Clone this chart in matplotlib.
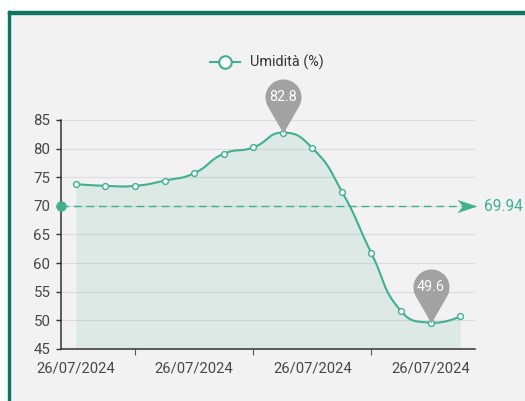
import numpy as np
import matplotlib.pyplot as plt
from matplotlib.path import Path
from matplotlib.lines import Line2D
from matplotlib.patches import Rectangle

plt.rcParams['font.family'] = ['Roboto', 'DejaVu Sans']

# data
dates = ['26/07/2024'] * 14
umidita = [73.8, 73.5, 73.5, 74.4, 75.7, 79.1, 80.2, 82.8, 80.1, 72.5, 61.7, 51.6, 49.6, 50.7]
yticks = [45, 50, 55, 60, 65, 70, 75, 80, 85]
label_idx = [0, 4, 8, 12]
tick_idx = [2, 6, 10]
serie_name = 'Umidità (%)'

teal = '#42b08f'
pin_grey = '#a2a2a2'
bg = '#f2f2f2'

W, H = 525, 401
fig = plt.figure(figsize=(W / 100, H / 100), dpi=100, facecolor=bg)
# white margin + green frame (top and left)
fig.patches.append(Rectangle((0, 1 - 11 / H), 1, 11 / H, transform=fig.transFigure, color='white', zorder=0))
fig.patches.append(Rectangle((0, 0), 8 / W, 1, transform=fig.transFigure, color='white', zorder=0))
fig.patches.append(Rectangle((8 / W, 1 - 14 / H), 1, 3 / H, transform=fig.transFigure, color='#0c7663', zorder=1))
fig.patches.append(Rectangle((8 / W, 0), 2.2 / W, 1 - 11 / H, transform=fig.transFigure, color='#0c7663', zorder=1))

ax_l, ax_r, ax_t, ax_b = 61, 475, 120, 349
ax = fig.add_axes([ax_l / W, 1 - ax_b / H, (ax_r - ax_l) / W, (ax_b - ax_t) / H])
ax.set_facecolor(bg)

n = len(umidita)
xs = np.arange(n)
ax.set_xlim(-0.5, n - 0.5)
ax.set_ylim(45, 85)

# smooth line like echarts (bezier, smooth = 0.5) computed in pixel space
sx = (ax_r - ax_l) / n
sy = (ax_b - ax_t) / 40.0


def smooth_curve(xv, yv, smooth=0.5, steps=30):
    pts = np.column_stack([np.asarray(xv) * sx, np.asarray(yv) * sy])
    cin, cout = [], []
    for i in range(len(pts)):
        if i == 0 or i == len(pts) - 1:
            cin.append(pts[i]); cout.append(pts[i])
            continue
        prev, nxt = pts[i - 1], pts[i + 1]
        v = (nxt - prev) * smooth
        d0 = np.linalg.norm(pts[i] - prev)
        d1 = np.linalg.norm(nxt - pts[i])
        r = d1 / (d0 + d1)
        cin.append(pts[i] - v * (1 - r))
        cout.append(pts[i] + v * r)
    t = np.linspace(0, 1, steps)[:, None]
    segs = []
    for i in range(len(pts) - 1):
        p0, p1, p2, p3 = pts[i], cout[i], cin[i + 1], pts[i + 1]
        b = (1 - t) ** 3 * p0 + 3 * (1 - t) ** 2 * t * p1 + 3 * (1 - t) * t ** 2 * p2 + t ** 3 * p3
        segs.append(b if i == 0 else b[1:])
    c = np.vstack(segs)
    return c[:, 0] / sx, c[:, 1] / sy


cx, cy = smooth_curve(xs, umidita)

ax.yaxis.grid(True, color='#dcdcdc', linewidth=0.8, zorder=0)
ax.set_axisbelow(True)
ax.fill_between(cx, cy, 45, color=teal, alpha=0.12, linewidth=0, zorder=1)
ax.plot(cx, cy, color=teal, linewidth=1.5, zorder=3)
ax.plot(xs, umidita, linestyle='none', marker='o', markersize=4.2,
        markerfacecolor='white', markeredgecolor=teal, markeredgewidth=1, zorder=4)

# average mark line
avg = np.mean(umidita)
ax.plot([-0.5, n - 0.5], [avg, avg], color=teal, linewidth=1, dashes=(5.5, 3.5), clip_on=False, zorder=3)
ax.plot([-0.5], [avg], marker='o', markersize=6.5, color=teal, clip_on=False, zorder=5)
arrow = Path([(0, 0), (-1, 0.33), (-0.72, 0), (-1, -0.33), (0, 0)],
             [Path.MOVETO, Path.LINETO, Path.LINETO, Path.LINETO, Path.CLOSEPOLY])
ax.plot([n - 0.5 + 2 / sx], [avg], marker=arrow, markersize=29, color=teal,
        markeredgewidth=0, clip_on=False, zorder=5)
ax.annotate(f'{avg:.2f}', (n - 0.5, avg), xytext=(9, 0), textcoords='offset pixels',
            color=teal, fontsize=11.2, va='center', ha='left', annotation_clip=False)

# pins for max / min
c = 2.0
a = np.arccos(1 / c)
ang = np.linspace(-np.pi / 2 + a, 3 * np.pi / 2 - a, 40)
pin_verts = [(0, 0)] + [(np.cos(t), c + np.sin(t)) for t in ang] + [(0, 0)]
pin = Path(pin_verts, [Path.MOVETO] + [Path.LINETO] * len(ang) + [Path.CLOSEPOLY])
head_r = 18
ms_pin = head_r * 2 * (c + 1) / (100 / 72)
for idx in [int(np.argmax(umidita)), int(np.argmin(umidita))]:
    ax.plot([idx], [umidita[idx]], marker=pin, markersize=ms_pin, color=pin_grey,
            markeredgewidth=0, clip_on=False, zorder=6)
    ax.annotate(f'{umidita[idx]}', (idx, umidita[idx]), xytext=(0, c * head_r),
                textcoords='offset pixels', color='white', fontsize=10.4,
                ha='center', va='center', zorder=7, annotation_clip=False)

# axes styling
for s in ['top', 'right']:
    ax.spines[s].set_visible(False)
for s in ['left', 'bottom']:
    ax.spines[s].set_color('#333333')
    ax.spines[s].set_linewidth(1.1)
ax.set_yticks(yticks)
ax.tick_params(axis='y', length=3.6, width=1, color='#333333', labelsize=10.8,
               labelcolor='#474747', pad=4)
ax.set_xticks(label_idx)
ax.set_xticklabels([dates[i] for i in label_idx])
ax.set_xticks(tick_idx, minor=True)
ax.tick_params(axis='x', which='major', length=0, labelsize=10.6, labelcolor='#474747', pad=9)
ax.tick_params(axis='x', which='minor', length=4, width=0.8, color='#555555')

# legend
ly = 1 - 62 / H
fig.add_artist(Line2D([210 / W, 240 / W], [ly, ly], transform=fig.transFigure, color=teal, linewidth=1.5))
fig.add_artist(Line2D([225 / W], [ly], transform=fig.transFigure, marker='o', markersize=9,
                      markerfacecolor='white', markeredgecolor=teal, markeredgewidth=1.5))
fig.text(250 / W, ly, serie_name, fontsize=10.4, color='#333333', va='center', ha='left')

fig.savefig('out.png', dpi=100, facecolor=bg)
